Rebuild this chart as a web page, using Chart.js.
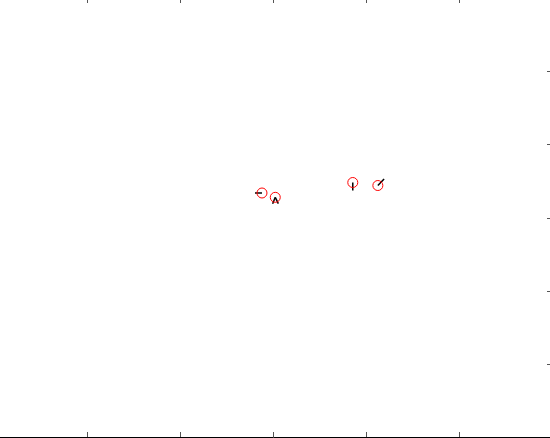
<!DOCTYPE html>
<html>
<head>
<meta charset="utf-8">
<script src="https://cdn.jsdelivr.net/npm/chart.js@4/dist/chart.umd.min.js"></script>
<style>
  html, body { margin: 0; padding: 0; background: #fff; overflow: hidden; width: 550px; height: 438px; }
  #wrap { position: absolute; left: -5px; top: -2px; width: 557px; height: 440px; }
</style>
</head>
<body>
<div id="wrap"><canvas id="c" width="557" height="440"></canvas></div>
<script>
// ---- data ----
const stationX = [2.876, 3.019, 3.854, 4.124];
const stationY = [3.341, 3.282, 3.484, 3.443];
// direction glyphs (degrees, canvas convention) and their lengths
const glyphX = [2.876, 3.019, 3.019, 3.854, 4.124];
const glyphY = [3.341, 3.282, 3.282, 3.484, 3.443];
const glyphAngle = [180, 112, 64, 90, -46];
const glyphLen = [7, 7, 7, 8, 9];
const xTicks = [1, 2, 3, 4, 5];
const yTicks = [1, 2, 3, 4, 5];
const xRange = [0, 6];
const yRange = [0, 6];

const axisPlugin = {
  id: 'matAxes',
  afterDraw(chart) {
    const { ctx, chartArea: a, scales: { x, y } } = chart;
    ctx.save();
    ctx.strokeStyle = '#555';
    ctx.lineWidth = 1;
    const L = 5;
    ctx.beginPath();
    xTicks.forEach(v => {
      const px = Math.floor(x.getPixelForValue(v)) + 0.5;
      ctx.moveTo(px, a.bottom - 1); ctx.lineTo(px, a.bottom - 1 - L);
      ctx.moveTo(px, a.top); ctx.lineTo(px, a.top + L);
    });
    yTicks.forEach(v => {
      const py = Math.floor(y.getPixelForValue(v)) + 0.5;
      ctx.moveTo(a.left, py); ctx.lineTo(a.left + L, py);
      ctx.moveTo(a.right, py); ctx.lineTo(a.right - L, py);
    });
    ctx.stroke();
    ctx.strokeStyle = '#000';
    ctx.beginPath();
    ctx.moveTo(a.left, a.bottom - 0.5); ctx.lineTo(a.right, a.bottom - 0.5);
    ctx.stroke();
    ctx.restore();
  }
};

new Chart(document.getElementById('c'), {
  type: 'scatter',
  data: {
    datasets: [
      {
        data: glyphX.map((v, i) => ({ x: v, y: glyphY[i] })),
        pointStyle: 'dash',
        rotation: glyphAngle,
        pointRadius: glyphLen,
        borderColor: '#000',
        backgroundColor: '#000',
        borderWidth: 1.5,
        order: 2
      },
      {
        data: stationX.map((v, i) => ({ x: v, y: stationY[i] })),
        pointStyle: 'circle',
        pointRadius: 5,
        borderColor: 'rgb(255,0,0)',
        backgroundColor: 'rgba(0,0,0,0)',
        borderWidth: 1,
        order: 1
      }
    ]
  },
  options: {
    responsive: false,
    animation: false,
    layout: { padding: 0, autoPadding: false },
    plugins: { legend: { display: false }, tooltip: { enabled: false } },
    scales: {
      x: { type: 'linear', min: xRange[0], max: xRange[1], display: false },
      y: { type: 'linear', min: yRange[0], max: yRange[1], display: false }
    },
    elements: { point: { hoverRadius: 0 } }
  },
  plugins: [axisPlugin]
});
</script>
</body>
</html>
